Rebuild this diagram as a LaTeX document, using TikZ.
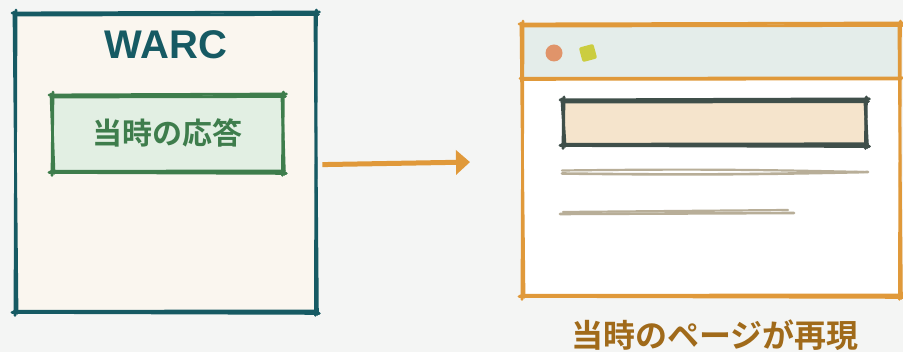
\documentclass[tikz,border=0pt]{standalone}
\usepackage{fontspec}
\setmainfont{Noto Sans CJK JP}[BoldFont={* Bold}]
\newfontfamily\cjkbold{Noto Sans CJK JP Bold}
\newfontfamily\latbold{Liberation Sans}[UprightFont={* Bold}]
\usetikzlibrary{arrows.meta,positioning}
\definecolor{bg}{HTML}{F4F5F4}
\definecolor{teal}{HTML}{165A63}
\definecolor{cream}{HTML}{FAF6EF}
\definecolor{grn}{HTML}{3E7D4C}
\definecolor{grnfill}{HTML}{E2EFE3}
\definecolor{org}{HTML}{E0993A}
\definecolor{barfill}{HTML}{E4EDEA}
\definecolor{hdrfill}{HTML}{F5E4CC}
\definecolor{hdrline}{HTML}{3F4F4A}
\definecolor{txtline}{HTML}{B8AE98}
\definecolor{dotred}{HTML}{E0946A}
\definecolor{dotyel}{HTML}{CBCD40}
\definecolor{caption}{HTML}{A06A1A}
\newcommand\roughbox[2]{%
 \draw[#2] ([shift={(-3,0)}]#1.north west) -- ([shift={(3,-1)}]#1.north east);
 \draw[#2] ([shift={(-1,2)}]#1.north west) -- ([shift={(2,1.5)}]#1.north east);
 \draw[#2] ([shift={(0,-3)}]#1.north east) -- ([shift={(-1,3)}]#1.south east);
 \draw[#2] ([shift={(-1.5,-1)}]#1.north east) -- ([shift={(1,2)}]#1.south east);
 \draw[#2] ([shift={(3,1)}]#1.south east) -- ([shift={(-3,0)}]#1.south west);
 \draw[#2] ([shift={(1,-1.5)}]#1.south east) -- ([shift={(-1,-1)}]#1.south west);
 \draw[#2] ([shift={(0,3)}]#1.south west) -- ([shift={(1,-3)}]#1.north west);
 \draw[#2] ([shift={(2,1)}]#1.south west) -- ([shift={(-1,-1)}]#1.north west);
}
\begin{document}
\begin{tikzpicture}[x=1pt,y=-1pt,
  boxnode/.style={anchor=north west,inner sep=0pt,draw=none},
  sketch/.style={line width=#1,line cap=round,line join=round},
  sketch/.default=2.8pt]
\useasboundingbox[fill=bg] (0,0) rectangle (903,352);
% WARC container
\node[boxnode,fill=cream,minimum width=301pt,minimum height=299pt] (warc) at (15,13) {};
\roughbox{warc}{sketch,teal}
\node[text=teal,font=\latbold\fontsize{40}{40}\selectfont] (title) at (166,45) {WARC};
\node[boxnode,fill=grnfill,minimum width=231pt,minimum height=77pt] (resp) at (52,95) {};
\roughbox{resp}{sketch,grn}
\node[text=grn,font=\cjkbold\fontsize{30}{30}\selectfont] (resptext) at ([yshift=1pt]resp.center) {当時の応答};
% Browser window
\node[boxnode,fill=white,minimum width=378pt,minimum height=272pt] (browser) at (522,24) {};
\node[boxnode,fill=barfill,minimum width=378pt,minimum height=54pt] (bar) at (522,24) {};
\roughbox{browser}{sketch,org}
\draw[sketch,org] ([shift={(-2,0)}]bar.south west) -- ([shift={(2,-0.5)}]bar.south east);
\draw[sketch=1.8pt,org] ([shift={(-1,1.5)}]bar.south west) -- ([shift={(1,1)}]bar.south east);
\node[circle,fill=dotred,minimum size=17pt,inner sep=0pt] (dot1) at (554,53) {};
\node[rounded corners=2pt,fill=dotyel,minimum size=15pt,inner sep=0pt,rotate=15] (dot2) at (588,53) {};
\node[boxnode,fill=hdrfill,minimum width=303pt,minimum height=45pt] (hdr) at (563,100) {};
\roughbox{hdr}{sketch=3pt,hdrline}
\coordinate (l1a) at (562,172);
\coordinate (l1b) at (868,172);
\coordinate (l2a) at (560,214);
\coordinate (l2b) at (790,213);
\draw[sketch=2.6pt,txtline] ([shift={(0,1.5)}]l1a) to[bend right=1] ([shift={(0,0)}]l1b);
\draw[sketch=2.2pt,txtline] ([shift={(0,-1.5)}]l1a) to[bend left=1] ([shift={(-4,0)}]l1b);
\draw[sketch=2.6pt,txtline] ([shift={(0,0)}]l2a) -- ([shift={(4,0)}]l2b);
\draw[sketch=2.2pt,txtline] ([shift={(3,-2)}]l2a) -- ([shift={(-2,-3)}]l2b);
% Arrow
\draw[line width=5pt,org,-{Triangle[length=14pt,width=24pt]},shorten <=6pt,shorten >=52pt]
  ([yshift=-2pt]warc.east) -- ([yshift=-1pt]browser.west);
% Caption
\node[text=caption,font=\cjkbold\fontsize{32}{32}\selectfont] (cap) at (715,335) {当時のページが再現};
\end{tikzpicture}
\end{document}
